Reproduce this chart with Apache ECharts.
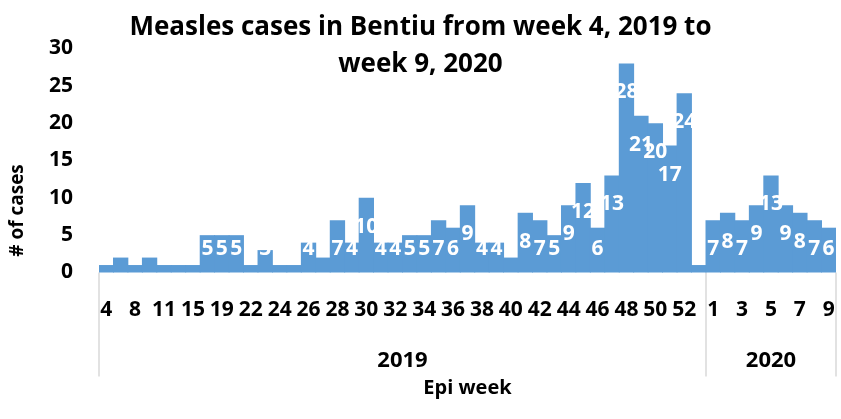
<!DOCTYPE html>
<html>
<head>
<meta charset="utf-8">
<script src="https://cdn.jsdelivr.net/npm/echarts@6/dist/echarts.min.js"></script>
<style>
  html, body { margin: 0; padding: 0; background: #fff; }
  #chart { width: 841px; height: 419px; }
</style>
</head>
<body>
<div id="chart"></div>
<script>
// epi weeks shown on the axis (every 2nd label is displayed)
var weeks2019 = ['4', '6', '8', '10', '11', '13', '15', '17', '19', '20',
  '22', '23', '24', '25', '26', '27', '28', '29', '30', '31', '32', '33', '34', '35', '36', '37',
  '38', '39', '40', '41', '42', '43', '44', '45', '46', '47', '48', '49', '50', '51', '52', '53'];
var weeks2020 = ['1', '2', '3', '4', '5', '6', '7', '8', '9'];

var cases2019 = [1, 2, 1, 2, 1, 1, 1, 5, 5, 5, 1, 3, 1, 1, 4, 2, 7, 4, 10, 4, 4,
  5, 5, 7, 6, 9, 4, 4, 2, 8, 7, 5, 9, 12, 6, 13, 28, 21, 20, 17, 24, 1];
var cases2020 = [7, 8, 7, 9, 13, 9, 8, 7, 6];

var years = ['2019', '2020'];
var yTicks = [0, 5, 10, 15, 20, 25, 30];

var weeks = weeks2019.concat(weeks2020);
var cases = cases2019.concat(cases2020);
var n1 = weeks2019.length, n = weeks.length;

var font = '"Open Sans", "Liberation Sans", sans-serif';

var option = {
  animation: false,
  title: {
    text: 'Measles cases in Bentiu from week 4, 2019 to\nweek 9, 2020',
    left: 'center',
    top: 4,
    textStyle: { fontFamily: font, fontSize: 26, fontWeight: 'bold', color: '#000', lineHeight: 37 }
  },
  grid: { left: 98, right: 5, top: 48.5, bottom: 146.5 },
  xAxis: [{
    type: 'category',
    data: weeks,
    axisLine: { show: false },
    axisTick: { show: false },
    axisLabel: {
      interval: 1, margin: 27,
      fontFamily: font, fontSize: 21, fontWeight: 'bold', color: '#000'
    },
    name: 'Epi week',
    nameLocation: 'middle',
    nameGap: 106,
    nameTextStyle: { fontFamily: font, fontSize: 20, fontWeight: 'bold', color: '#000' }
  }, {
    type: 'value',
    position: 'bottom',
    min: 0,
    max: n,
    axisLine: { show: false },
    splitLine: { show: false },
    axisTick: {
      show: true, length: 104,
      customValues: [0, n1, n],
      lineStyle: { color: '#D9D9D9', width: 1.5 }
    },
    axisLabel: {
      margin: 77,
      customValues: [n1 / 2, (n1 + n) / 2],
      formatter: function (v) { return v < n1 ? years[0] : years[1]; },
      fontFamily: font, fontSize: 22, fontWeight: 'bold', color: '#000'
    }
  }],
  yAxis: {
    type: 'value',
    min: yTicks[0],
    max: yTicks[yTicks.length - 1],
    interval: yTicks[1] - yTicks[0],
    splitLine: { show: false },
    axisLine: { show: false },
    axisTick: { show: false },
    axisLabel: { margin: 26, fontFamily: font, fontSize: 21, fontWeight: 'bold', color: '#000' },
    name: '# of cases',
    nameLocation: 'middle',
    nameGap: 72,
    nameTextStyle: {
      fontFamily: font, fontSize: 19, fontWeight: 'bold', color: '#000',
      padding: [0, 100, 0, 0]
    }
  },
  series: [{
    type: 'bar',
    xAxisIndex: 0,
    data: cases,
    barWidth: '106%',
    itemStyle: { color: '#5B9BD5' },
    label: {
      show: true,
      position: 'insideTop',
      color: '#fff',
      fontFamily: font,
      fontSize: 21,
      fontWeight: 'bold'
    },
    labelLayout: function (p) {
      var r = p.rect;
      return {
        x: r.x + r.width / 2,
        y: Math.min(r.y + 29, r.y + r.height - 23),
        align: 'center',
        verticalAlign: 'middle'
      };
    }
  }]
};

var chart = echarts.init(document.getElementById('chart'));
chart.setOption(option);
</script>
</body>
</html>
